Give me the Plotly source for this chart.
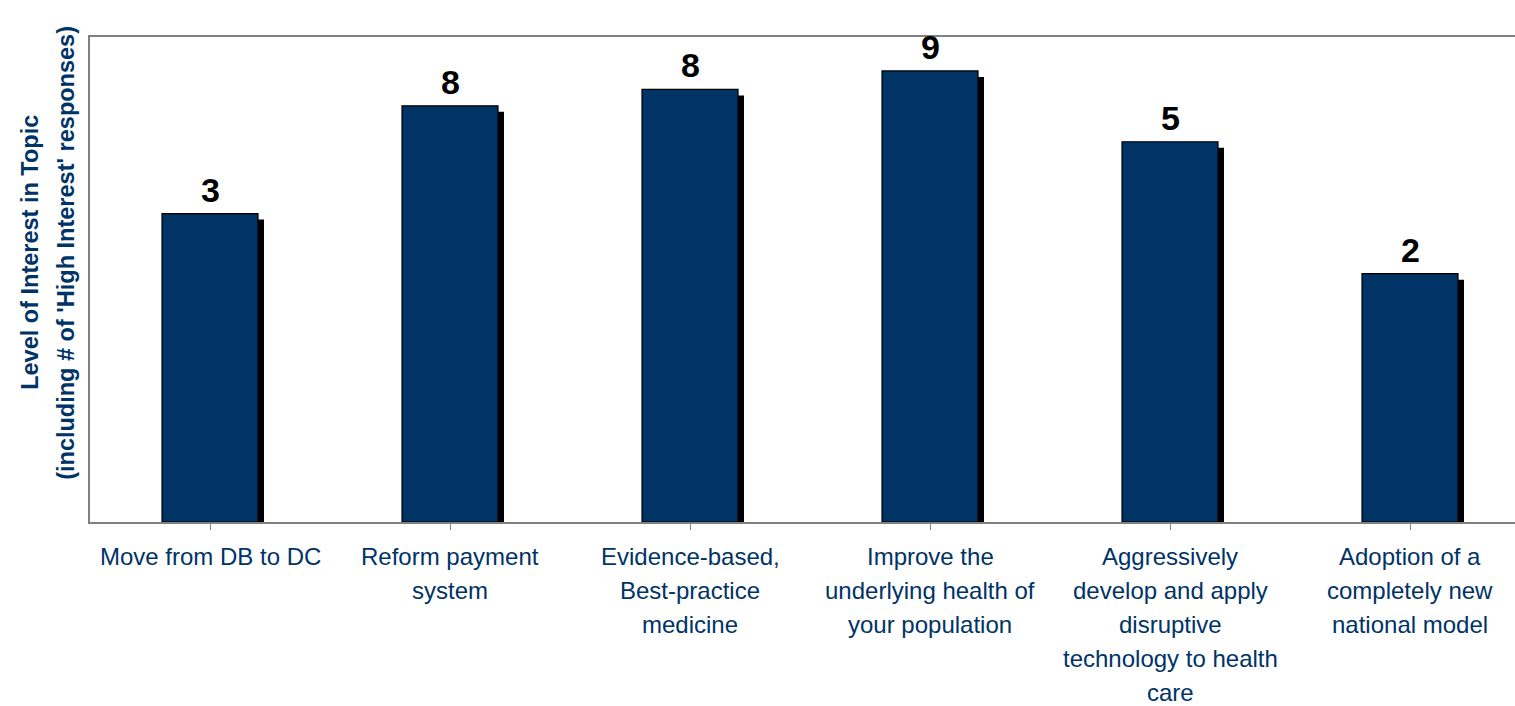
import plotly.graph_objects as go

# Survey topics, average interest level (1-5 scale) and count of 'High Interest' responses
topics = [
    "Move from DB to DC",
    "Reform payment<br>system",
    "Evidence-based,<br>Best-practice<br>medicine",
    "Improve the<br>underlying health of<br>your population",
    "Aggressively<br>develop and apply<br>disruptive<br>technology to health<br>care",
    "Adoption of a<br>completely new<br>national model",
]
interest_level = [3.18, 4.29, 4.46, 4.65, 3.92, 2.56]
high_interest_count = [3, 8, 8, 9, 5, 2]

NAVY = "#003366"
FONT = "Liberation Sans, Arial, sans-serif"
Y_MAX = 5.0
PLOT_H = 485          # plot area height in px
SHADOW_PX = 6         # drop-shadow offset in px
CAT_PX = 240          # width of one category in px

x = list(range(len(topics)))
shadow_dy = SHADOW_PX / PLOT_H * Y_MAX

fig = go.Figure()

# drop shadow: same bars, nudged right and drawn on an axis shifted down (underneath)
fig.add_trace(go.Bar(
    x=x, y=interest_level, width=0.4, offset=-0.2 + SHADOW_PX / CAT_PX,
    marker=dict(color="black", line=dict(width=0)),
    yaxis="y", hoverinfo="skip", showlegend=False,
))
# main bars on the overlaying axis so they sit on top of the shadow
fig.add_trace(go.Bar(
    x=x, y=interest_level, width=0.4, offset=-0.2,
    marker=dict(color=NAVY, line=dict(color="black", width=1.2)),
    yaxis="y2", showlegend=False,
))

annotations = []
# count labels above each bar
for xi, v, c in zip(x, interest_level, high_interest_count):
    annotations.append(dict(
        x=xi, y=v, xref="x", yref="y2", text=f"<b>{c}</b>", showarrow=False,
        yanchor="bottom", yshift=3,
        font=dict(family=FONT, size=34, color="black"),
    ))
# category labels, one annotation per line for wider line spacing
for xi, t in zip(x, topics):
    for i, line in enumerate(t.split("<br>")):
        annotations.append(dict(
            x=xi, y=0, xref="x", yref="paper", text=line, showarrow=False,
            yanchor="middle", yshift=-(34 + 34 * i),
            font=dict(family=FONT, size=24, color=NAVY),
        ))
# y-axis title (two lines)
for i, line in enumerate(["Level of Interest in Topic",
                          "(including # of 'High Interest' responses)"]):
    annotations.append(dict(
        x=0, y=0.555, xref="paper", yref="paper", text=f"<b>{line}</b>",
        showarrow=False, textangle=-90, xanchor="center", yanchor="middle",
        xshift=-60 + 36 * i,
        font=dict(family=FONT, size=23.5, color=NAVY),
    ))

fig.update_layout(
    width=1515, height=706,
    margin=dict(l=90, r=0, t=37, b=184),
    paper_bgcolor="white", plot_bgcolor="white",
    bargap=0.6,
    xaxis=dict(
        range=[-0.5, -0.5 + 1425 / CAT_PX],
        tickmode="array", tickvals=x, ticktext=[""] * len(x),
        tickson="boundaries", ticks="outside", ticklen=6, tickcolor="#808080",
        showline=True, linecolor="#808080", linewidth=2, mirror=True,
        showgrid=False, zeroline=False, showticklabels=False,
    ),
    yaxis=dict(
        range=[shadow_dy, Y_MAX + shadow_dy], showline=True,
        linecolor="#808080", linewidth=2,
        showgrid=False, zeroline=False, showticklabels=False, ticks="",
    ),
    yaxis2=dict(
        range=[0, Y_MAX], overlaying="y",
        visible=False, showgrid=False, zeroline=False,
    ),
    annotations=annotations,
)

fig.write_html("out.html")
